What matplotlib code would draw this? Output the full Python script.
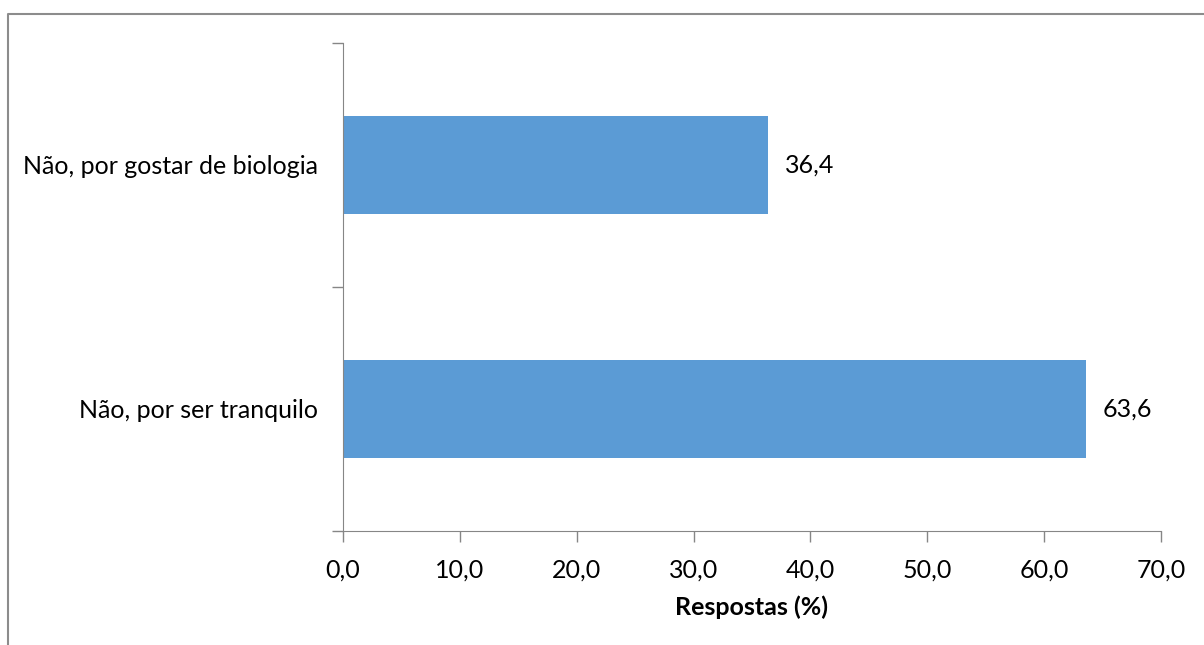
import matplotlib.pyplot as plt
from matplotlib.lines import Line2D

categorias = ['Não, por ser tranquilo', 'Não, por gostar de biologia']
respostas = [63.6, 36.4]
xticks = [0, 10, 20, 30, 40, 50, 60, 70]

plt.rcParams['font.family'] = ['Lato', 'DejaVu Sans']
fs = 18

fig = plt.figure(figsize=(12.04, 6.45), dpi=100)
ax = fig.add_axes([343 / 1204, 1 - 531 / 645, (1161 - 343) / 1204, (531 - 43) / 645])

cor = '#5B9BD5'
pos = range(len(categorias))
ax.barh(pos, respostas, height=0.4, color=cor)
ax.set_ylim(-0.5, len(categorias) - 0.5)
ax.set_xlim(0, 70)

for p, v in zip(pos, respostas):
    ax.text(v + 1.4, p, f'{v:.1f}'.replace('.', ','), va='center', ha='left', fontsize=fs)

ax.set_xticks(xticks)
ax.set_xticklabels([f'{t:.1f}'.replace('.', ',') for t in xticks], fontsize=fs)
ax.set_yticks([-0.5, 0.5, 1.5])
ax.set_yticklabels([])
ax.set_yticks(list(pos), minor=True)
ax.set_yticklabels(categorias, minor=True, fontsize=fs)
ax.tick_params(axis='y', which='minor', length=0, pad=18)
ax.tick_params(axis='y', which='major', length=8, color='#868686', width=1)
ax.tick_params(axis='x', length=8, color='#868686', width=1, pad=12)
for s in ['top', 'right']:
    ax.spines[s].set_visible(False)
for s in ['left', 'bottom']:
    ax.spines[s].set_color('#868686')
ax.set_xlabel('Respostas (%)', fontsize=fs, fontweight='bold', labelpad=10)

# moldura da área do gráfico (topo e lado esquerdo)
fig.add_artist(Line2D([8 / 1204, 8 / 1204, 1], [0, 1 - 14 / 645, 1 - 14 / 645],
                      color='#8c8c8c', lw=1.5))

fig.savefig('out.png', dpi=100)
